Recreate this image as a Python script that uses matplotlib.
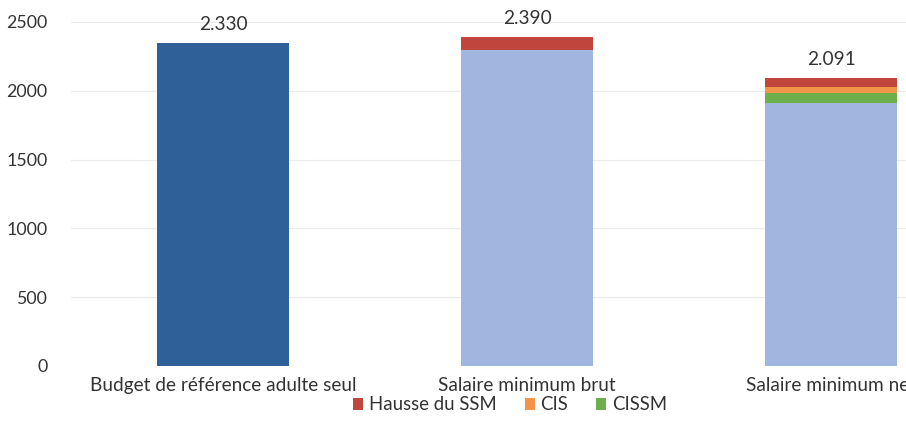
import matplotlib.pyplot as plt
import numpy as np

categories = ["Budget de référence adulte seul", "Salaire minimum brut", "Salaire minimum net"]
budget = [2345, 0, 0]
base_salaire = [0, 2300, 1909]
cissm = [0, 0, 78]
cis = [0, 0, 44]
hausse = [0, 90, 60]
total_labels = ["2.330", "2.390", "2.091"]

plt.rcParams["font.family"] = ["Lato", "DejaVu Sans"]
fs = 13.7

fig = plt.figure(figsize=(9.06, 4.30), dpi=100)
ax = fig.add_axes([71 / 906, 64 / 430, 912 / 906, 344 / 430])

x = np.arange(len(categories))
w = 0.435

ax.bar(x, budget, w, color="#2F6098")
ax.bar(x, base_salaire, w, color="#A0B6DF")
bottom = np.array(budget) + np.array(base_salaire)
ax.bar(x, cissm, w, bottom=bottom, color="#6DAF4B", label="CISSM")
bottom = bottom + np.array(cissm)
ax.bar(x, cis, w, bottom=bottom, color="#F2954B", label="CIS")
bottom = bottom + np.array(cis)
ax.bar(x, hausse, w, bottom=bottom, color="#C0463D", label="Hausse du SSM")
bottom = bottom + np.array(hausse)

for xi, top, lab in zip(x, bottom, total_labels):
    ax.text(xi, top + 75, lab, ha="center", va="bottom", fontsize=fs, color="#333333")

ax.set_xlim(-0.5, 2.5)
ax.set_ylim(0, 2500)
ax.set_yticks([0, 500, 1000, 1500, 2000, 2500])
ax.set_xticks(x)
ax.set_xticklabels(categories, fontsize=fs, color="#333333")
ax.tick_params(axis="y", labelsize=12.8, labelcolor="#333333", length=0, pad=17)
ax.tick_params(axis="x", length=0, pad=8)
ax.grid(axis="y", color="#EBEBEB", linewidth=0.8)
ax.set_axisbelow(True)
for s in ax.spines.values():
    s.set_visible(False)

handles, labels = ax.get_legend_handles_labels()
order = [2, 1, 0]
fig.legend([handles[i] for i in order], [labels[i] for i in order],
           loc="center", bbox_to_anchor=(510 / 906, 25 / 430), ncol=3, frameon=False,
           fontsize=fs - 0.3, handlelength=0.55, handleheight=0.55, handletextpad=0.3,
           columnspacing=1.5, labelcolor="#333333")

fig.savefig("out.png", dpi=100)
